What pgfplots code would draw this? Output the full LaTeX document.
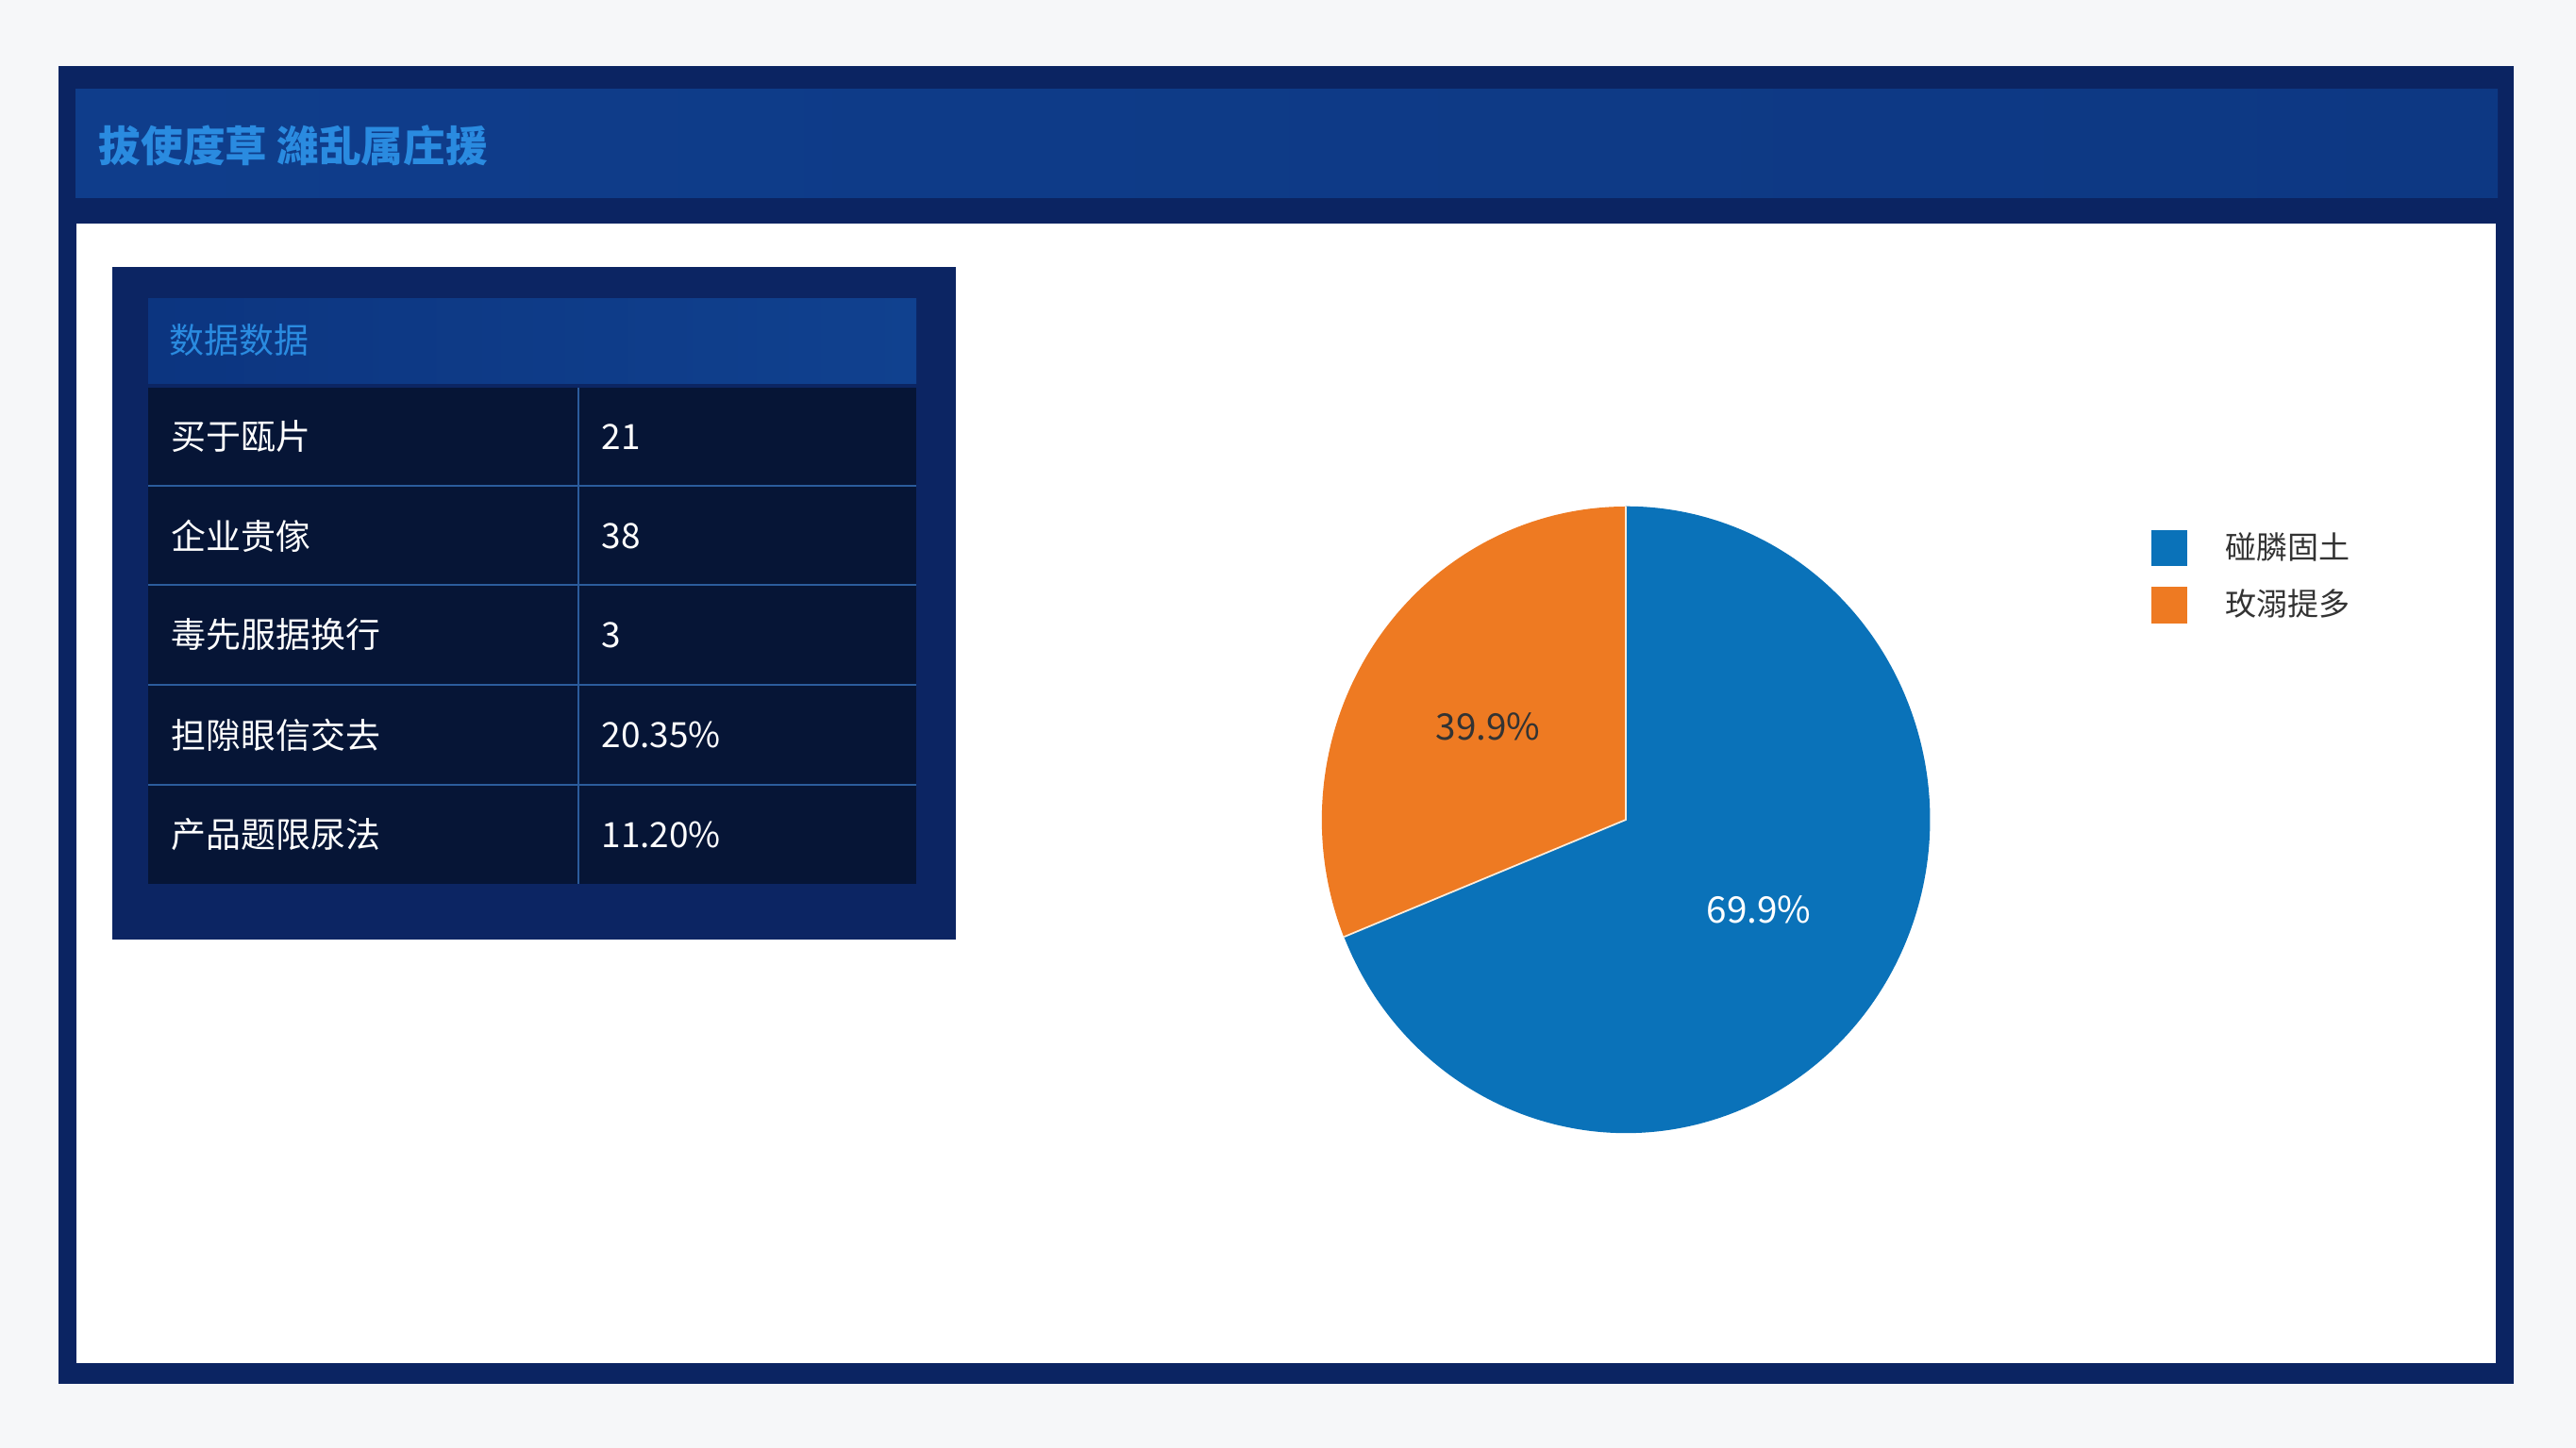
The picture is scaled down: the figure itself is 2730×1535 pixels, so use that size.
\documentclass[border=0pt]{standalone}
\usepackage{pgfplots}
\pgfplotsset{compat=1.18}
\usepackage{pgfplotstable}
\usepackage{fontspec}
\setmainfont{Noto Sans CJK SC}
\definecolor{bgout}{HTML}{F6F7F9}
\definecolor{framec}{HTML}{0B2462}
\definecolor{titlebandL}{HTML}{0F3D8B}
\definecolor{titlebandR}{HTML}{0D3883}
\definecolor{titletext}{HTML}{2A8BE0}
\definecolor{panel}{HTML}{0C2563}
\definecolor{headerL}{HTML}{0C3580}
\definecolor{headerR}{HTML}{10418F}
\definecolor{rowbg}{HTML}{061536}
\definecolor{rowline}{HTML}{2B5C9C}
\definecolor{pieblue}{HTML}{0A72B9}
\definecolor{pieorange}{HTML}{EE7A22}

\pgfplotstableread{
name value
blue 68.9
orange 31.1
}\piedata

\newcommand\titlefont{\fontsize{12.7}{15}\selectfont}
\newcommand\tabfont{\fontsize{10.5}{12}\selectfont}
\newcommand\legfont{\fontsize{9.4}{11}\selectfont}
\newcommand\piefont{\fontsize{11}{13}\selectfont}

\begin{document}
\begin{tikzpicture}
\pgfplotstablegetelem{0}{value}\of\piedata \edef\vblue{\pgfplotsretval}
\pgfplotstablegetelem{1}{value}\of\piedata \edef\vorange{\pgfplotsretval}
\pgfmathsetmacro\aA{90}
\pgfmathsetmacro\aB{90+3.6*\vorange}
\pgfmathsetmacro\aC{\aB+3.6*\vblue}
\pgfmathsetmacro\mO{(\aA+\aB)/2}
\pgfmathsetmacro\mB{(\aB+\aC)/2}
\begin{axis}[
  x=0.01cm, y=0.01cm,
  xmin=0, xmax=2730, ymin=0, ymax=1535,
  hide axis, clip=false,
  legend style={at={(axis cs:2279,974)}, anchor=north west, draw=none, fill=none,
    font=\legfont, text=black!80, row sep=0.22cm, inner sep=0pt,
    nodes={inner sep=0pt}, column sep=0.4cm},
  legend cell align=left,
]
% backgrounds
\fill[bgout] (0,0) rectangle (2730,1535);
\fill[framec] (62,68) rectangle (2664,1465);
\shade[left color=titlebandL, right color=titlebandR] (80,1325) rectangle (2647,1440);
\fill[white] (81,90) rectangle (2645,1298);
\node[anchor=west, text=titletext, font=\titlefont\bfseries, inner sep=0pt] at (104,1381) {拔使度草 濰乱属庄援};
% table panel
\fill[panel] (119,539) rectangle (1013,1252);
\shade[left color=headerL, right color=headerR] (157,1128) rectangle (971,1218);
\node[anchor=west, text=titletext, font=\tabfont, inner sep=0pt] at (179,1174) {数据数据};
\fill[rowbg] (157,598) rectangle (971,1124);
\draw[rowline, line width=0.8pt] (157,1020) -- (971,1020);
\draw[rowline, line width=0.8pt] (157,915) -- (971,915);
\draw[rowline, line width=0.8pt] (157,809) -- (971,809);
\draw[rowline, line width=0.8pt] (157,703) -- (971,703);
\draw[rowline, line width=0.8pt] (613,598) -- (613,1124);
\begin{scope}[every node/.style={anchor=west, text=white, font=\tabfont, inner sep=0pt}]
\node at (181,1072) {买于瓯片};     \node at (637,1072) {21};
\node at (181,967)  {企业贵傢};     \node at (637,967)  {38};
\node at (181,862)  {毒先服据换行}; \node at (637,862)  {3};
\node at (181,756)  {担隙眼信交去}; \node at (637,756)  {20.35\%};
\node at (181,650)  {产品题限尿法}; \node at (637,650)  {11.20\%};
\end{scope}
% pie (centre 1723,666; radii 322 x 332)
\fill[pieorange] (1723,666) -- ({1723+322*cos(\aA)},{666+332*sin(\aA)}) arc[start angle=\aA, end angle=\aB, x radius=3.22cm, y radius=3.32cm] -- cycle;
\fill[pieblue] (1723,666) -- ({1723+322*cos(\aB)},{666+332*sin(\aB)}) arc[start angle=\aB, end angle=\aC, x radius=3.22cm, y radius=3.32cm] -- cycle;
\draw[white!85!orange, line width=0.5pt] ({1723+322*cos(\aB)},{666+332*sin(\aB)}) -- (1723,666) -- ({1723+322*cos(\aA)},{666+332*sin(\aA)});
\node[text=black!80, font=\piefont] at ({1723+176*cos(\mO)},{666+176*sin(\mO)}) {39.9\%};
\node[text=white, font=\piefont] at ({1723+170*cos(\mB)},{666+170*sin(\mB)}) {69.9\%};
% legend
\addlegendimage{legend image code/.code={\fill[pieblue] (0cm,-0.185cm) rectangle (0.37cm,0.185cm);}}
\addlegendentry{碰膦固土}
\addlegendimage{legend image code/.code={\fill[pieorange] (0cm,-0.185cm) rectangle (0.37cm,0.185cm);}}
\addlegendentry{玫溺提多}
\end{axis}
\end{tikzpicture}
\end{document}
